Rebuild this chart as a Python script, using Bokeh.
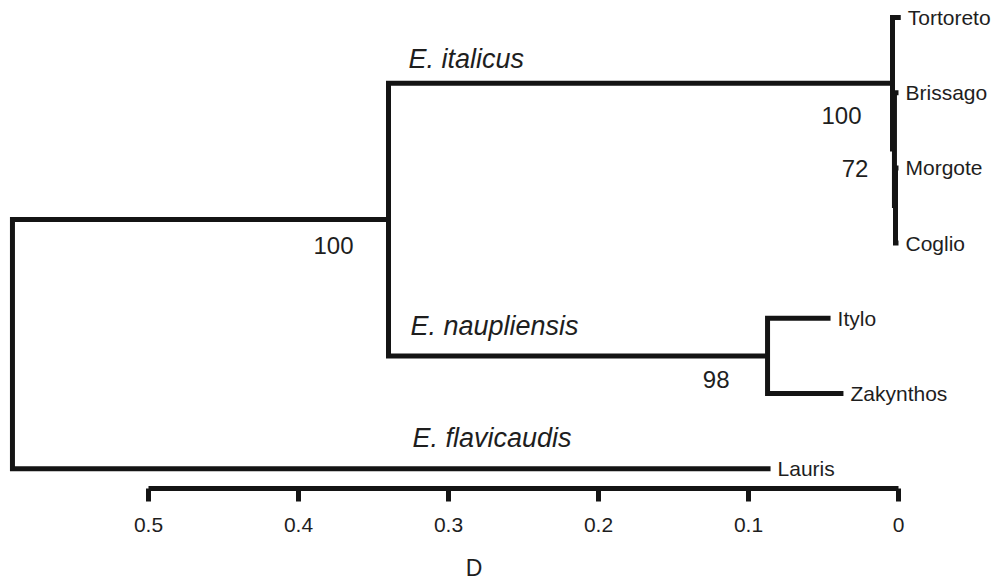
from bokeh.plotting import figure
from bokeh.models import Range1d, FixedTicker, ColumnDataSource
from bokeh.core.properties import value
from bokeh.embed import file_html
from bokeh.resources import INLINE

# ---------------- data ----------------
leaf_names = ["Tortoreto", "Brissago", "Morgote", "Coglio", "Itylo", "Zakynthos", "Lauris"]
leaf_depths = [-0.0015, 0.0, 0.0, 0.0, 0.0453, 0.0367, 0.0853]

node_names = ["MC", "BMC", "italicus", "naupliensis", "ital_naup", "root"]
node_depths = [0.0020, 0.0027, 0.0040, 0.0873, 0.340, 0.5907]
node_children = [["Morgote", "Coglio"], ["Brissago", "MC"], ["Tortoreto", "BMC"],
                 ["Itylo", "Zakynthos"], ["italicus", "naupliensis"], ["ital_naup", "Lauris"]]

support_nodes = ["ital_naup", "italicus", "BMC", "naupliensis"]
support_values = ["100", "100", "72", "98"]

clade_names = ["E. italicus", "E. naupliensis", "E. flavicaudis"]
clade_branches = ["italicus", "naupliensis", "Lauris"]

tick_values = [0.5, 0.4, 0.3, 0.2, 0.1, 0.0]
tick_labels = ["0.5", "0.4", "0.3", "0.2", "0.1", "0"]
axis_title = "D"

# ---------------- layout of tree ----------------
depth = {n: d for n, d in zip(leaf_names, leaf_depths)}
ypos = {n: float(i) for i, n in enumerate(leaf_names)}
for n, d, ch in zip(node_names, node_depths, node_children):
    depth[n] = d
    ypos[n] = sum(ypos[c] for c in ch) / len(ch)

xs, ys = [], []
for n, ch in zip(node_names, node_children):
    c1, c2 = ch
    xs.append([depth[c1], depth[n], depth[n], depth[c2]])
    ys.append([ypos[c1], ypos[c1], ypos[c2], ypos[c2]])

LINE = "#141414"
TEXT = "#1e1e1e"
FONT = "Liberation Sans"

AXIS_Y = 6.257      # vertical place of the scale bar (row units)
TITLE_X = 0.283     # horizontal place of the axis title
TITLE_Y = 7.327     # vertical place of the axis title

p = figure(width=995, height=583, output_backend="svg", toolbar_location=None,
           x_range=Range1d(0.59867, -0.06467), y_range=Range1d(7.527, -0.226),
           y_axis_location=None, min_border_left=0, min_border_right=0,
           min_border_top=0, min_border_bottom=0)
p.outline_line_color = None
p.grid.visible = False
p.background_fill_color = "white"
p.border_fill_color = "white"

p.multi_line(xs, ys, line_color=LINE, line_width=5, line_join="miter", line_cap="butt")

# tip labels
tip_src = ColumnDataSource(dict(x=leaf_depths, y=[ypos[n] for n in leaf_names], t=leaf_names))
p.text(x="x", y="y", text="t", source=tip_src, x_offset=7, text_align="left",
       text_baseline="middle", text_font=value(FONT), text_font_size="21px", text_color=TEXT)

# support values
sup_dx = [-35, -31, -26, -38]
sup_dy = [26, 32, 19, 24]
sup_src = ColumnDataSource(dict(x=[depth[n] for n in support_nodes],
                                y=[ypos[n] for n in support_nodes],
                                t=support_values, dx=sup_dx, dy=sup_dy))
p.text(x="x", y="y", text="t", source=sup_src, x_offset="dx", y_offset="dy",
       text_align="right", text_baseline="middle", text_font=value(FONT),
       text_font_size="24px", text_color=TEXT)

# clade labels
cl_dx = [20, 22, 24]
cl_dy = [-24, -30, -31]
cl_src = ColumnDataSource(dict(x=[depth["ital_naup"]] * 3,
                               y=[ypos[n] for n in clade_branches],
                               t=clade_names, dx=cl_dx, dy=cl_dy))
p.text(x="x", y="y", text="t", source=cl_src, x_offset="dx", y_offset="dy",
       text_align="left", text_baseline="alphabetic", text_font=value(FONT),
       text_font_style="italic", text_font_size="27px", text_color=TEXT)

# scale-bar axis, fixed inside the plot area
ax = p.xaxis[0]
ax.fixed_location = AXIS_Y
ax.ticker = FixedTicker(ticks=tick_values)
ax.major_label_overrides = {v: l for v, l in zip(tick_values, tick_labels)}
ax.bounds = (0.0, 0.5)
ax.axis_line_width = 5
ax.axis_line_color = LINE
ax.major_tick_line_width = 5
ax.major_tick_line_color = LINE
ax.major_tick_in = 0
ax.major_tick_out = 13
ax.minor_tick_line_color = None
ax.major_label_standoff = 17
ax.major_label_text_font = FONT
ax.major_label_text_font_size = "21px"
ax.major_label_text_color = TEXT

# axis title
p.text(x=[TITLE_X], y=[TITLE_Y], text=[axis_title], text_align="center",
       text_baseline="middle", text_font=value(FONT), text_font_size="23px", text_color=TEXT)

open("out.html", "w").write(file_html(p, INLINE))
